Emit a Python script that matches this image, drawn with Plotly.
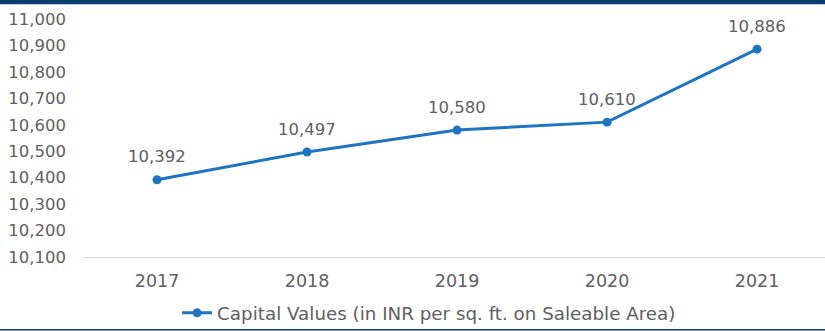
import plotly.graph_objects as go

# Capital values by year
years = ["2017", "2018", "2019", "2020", "2021"]
capital_values = [10392, 10497, 10580, 10610, 10886]
y_ticks = [10100, 10200, 10300, 10400, 10500, 10600, 10700, 10800, 10900, 11000]

series_name = "Capital Values (in INR per sq. ft. on Saleable Area)"
line_color = "#1f74c2"
text_color = "#606060"
navy = "#0b3d72"
font_family = "DejaVu Sans"

fig = go.Figure()
fig.add_trace(go.Scatter(
    x=list(range(len(years))),
    y=capital_values,
    mode="lines+markers",
    name=series_name,
    line=dict(color=line_color, width=3),
    marker=dict(color=line_color, size=9),
    showlegend=True,
))

# value labels above each point
for i, v in enumerate(capital_values):
    fig.add_annotation(
        x=i, y=v, text=f"{v:,}", showarrow=False,
        yshift=23, font=dict(family=font_family, size=16.5, color=text_color),
    )

# header bar and bottom rule
fig.add_shape(type="rect", xref="paper", yref="paper",
              x0=-0.2, x1=1.2, y0=1.062, y1=1.2, fillcolor=navy, line_width=0,
              layer="above")
fig.add_shape(type="line", xref="paper", yref="paper",
              x0=-0.2, x1=1.2, y0=-0.306, y1=-0.306,
              line=dict(color=navy, width=1.5))

fig.update_layout(
    width=825, height=331,
    margin=dict(l=82, r=0, t=19, b=74, autoexpand=False),
    paper_bgcolor="white", plot_bgcolor="white",
    font=dict(family=font_family, size=16.5, color=text_color),
    showlegend=True,
    legend=dict(orientation="h", x=0.128, xanchor="left", y=-0.235, yanchor="middle",
                font=dict(size=18.3, color=text_color), bgcolor="rgba(0,0,0,0)"),
    xaxis=dict(
        range=[-0.5, 4.453],
        tickvals=list(range(len(years))), ticktext=years,
        showgrid=False, showline=True, linecolor="#d9d9d9", linewidth=1,
        ticks="", ticklabelstandoff=8, zeroline=False,
        tickfont=dict(size=17.5, color=text_color),
    ),
    yaxis=dict(
        range=[10100, 11000], tickvals=y_ticks,
        tickformat=",d", showgrid=False, zeroline=False, showline=False,
        ticks="", ticklabelstandoff=15,
        tickfont=dict(size=16.5, color=text_color),
    ),
)

fig.write_html("out.html")
